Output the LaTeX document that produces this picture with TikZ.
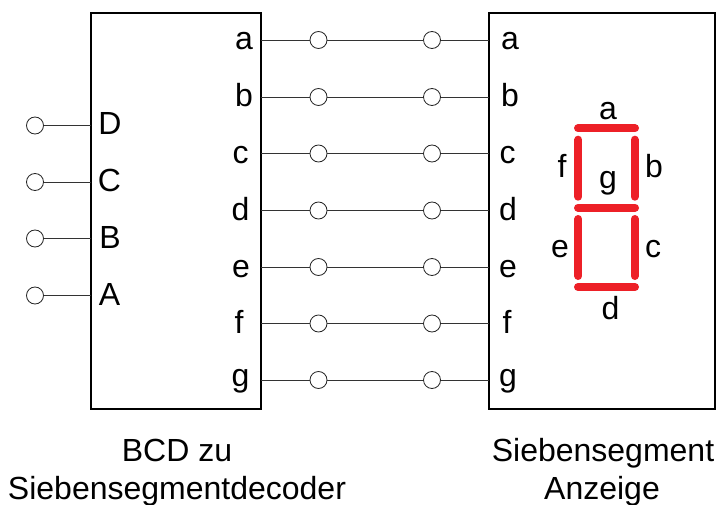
\documentclass[tikz,border=0pt]{standalone}
\usepackage{fontspec}
\setmainfont{Liberation Sans}
\definecolor{segred}{RGB}{237,32,39}
\tikzset{
 x=1pt,y=-1pt,
 block/.style={draw=black,line width=2.2pt,fill=white,inner sep=0pt},
 wire/.style={draw=black!80,line width=0.8pt},
 term/.style={circle,draw=black!85,line width=0.8pt,fill=white,minimum size=17pt,inner sep=0pt},
 lbl/.style={font=\fontsize{32}{36}\selectfont,inner sep=0pt,text=black,anchor=base},
 seg/.style={draw=segred,line width=8pt,line cap=round},
 captext/.style={font=\fontsize{32}{38}\selectfont,inner sep=0pt,text=black,anchor=base}
}
\begin{document}
\begin{tikzpicture}
\useasboundingbox (0,0) rectangle (717,505);
\node[block,anchor=north west,minimum width=170pt,minimum height=396pt] (dec) at (90.2,11.8) {};
\node[block,anchor=north west,minimum width=226pt,minimum height=396pt] (disp) at (488.2,11.8) {};
\foreach \n/\y/\lx/\rx/\off in {a/40/244/510/10,b/97/244/510/10,c/153.5/240.5/507.5/10,d/210.5/240.5/508/10,e/267/241/508/10,f/323.5/239/507/10,g/380/240.5/508/6.5}{
 \coordinate (o\n) at (261,\y);
 \coordinate (i\n) at (489,\y);
 \node[term] (p\n) at (318.5,\y) {};
 \node[term] (q\n) at (432,\y) {};
 \draw[wire] (o\n) -- (p\n);
 \draw[wire] (p\n) -- (q\n);
 \draw[wire] (q\n) -- (i\n);
 \node[lbl] (lo\n) at (\lx,\y+\off) {\n};
 \node[lbl] (li\n) at (\rx,\y+\off) {\n};
}
\foreach \n/\y/\lx in {D/125.5/110,C/182/109.5,B/238.5/110,A/295.5/109.5}{
 \node[term] (t\n) at (35,\y) {};
 \coordinate (e\n) at (91,\y);
 \draw[wire] (t\n) -- (e\n);
 \node[lbl] (l\n) at (\lx,\y+9.5) {\n};
}
\draw[seg] (578,128.3) -- (635,128.3);
\draw[seg] (578,207.7) -- (635,207.7);
\draw[seg] (578,287) -- (635,287);
\draw[seg] (578.3,139.7) -- (578.3,196.7);
\draw[seg] (634.7,139.7) -- (634.7,196.7);
\draw[seg] (578.3,219) -- (578.3,276);
\draw[seg] (634.7,219) -- (634.7,276);
\node[lbl] (sa) at (608,120) {a};
\node[lbl] (sb) at (654,178) {b};
\node[lbl] (sc) at (653,257) {c};
\node[lbl] (sd) at (610.5,319) {d};
\node[lbl] (se) at (560,257) {e};
\node[lbl] (sf) at (562,178) {f};
\node[lbl] (sg) at (608,189) {g};
\node[captext] (c1a) at (177,461) {BCD zu};
\node[captext] (c1b) at (177,499) {Siebensegmentdecoder};
\node[captext] (c2a) at (603,461) {Siebensegment};
\node[captext] (c2b) at (602,499) {Anzeige};
\end{tikzpicture}
\end{document}
